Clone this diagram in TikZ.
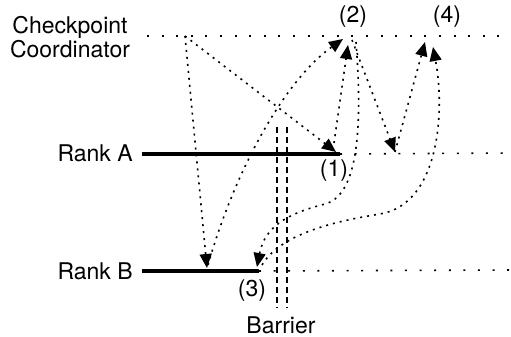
\documentclass[tikz,border=0pt]{standalone}
\usepackage{fontspec}
\setmainfont{TeX Gyre Heros}
\usetikzlibrary{arrows.meta}
\begin{document}
\begin{tikzpicture}[x=0.5pt,y=-0.5pt,
        lbl/.style = {font=\fontsize{11.5}{12}\selectfont, inner sep=0pt},
        life/.style = {line width=2pt},
        idle/.style = {line width=0.8pt, dash pattern=on 1pt off 6.3pt},
        msg/.style = {line width=0.8pt, dash pattern=on 1pt off 2.5pt, -{Triangle[length=7pt,width=6pt]}},
        wall/.style = {line width=0.7pt, dash pattern=on 3pt off 2pt}]
        \useasboundingbox (0,0) rectangle (511,337);
        \node[lbl, align=center] (ckpt) at (70,37) {Checkpoint\\Coordinator};
        \node[lbl, anchor=east] (rankA) at (133,153) {Rank A};
        \node[lbl, anchor=east] (rankB) at (133,271) {Rank B};
        \node[lbl] (l1) at (334,171) {(1)};
        \node[lbl] (l2) at (353,17) {(2)};
        \node[lbl] (l3) at (252,291) {(3)};
        \node[lbl] (l4) at (447,17) {(4)};
        \node[lbl] (bar) at (281,325) {Barrier};
        % time lines
        \coordinate (c0) at (147,36);
        \coordinate (c1) at (511,36);
        \coordinate (a0) at (142,154);
        \coordinate (a1) at (340,154);
        \coordinate (a2) at (511,153);
        \coordinate (b0) at (142,271);
        \coordinate (b1) at (259,271);
        \coordinate (b2) at (511,270);
        \draw[idle] (c0) -- (c1);
        \draw[life] (a0) -- (a1);
        \draw[idle] (a1) -- (a2);
        \draw[life] (b0) -- (b1);
        \draw[idle] (b1) -- (b2);
        % barrier
        \coordinate (w1) at (277,127);
        \coordinate (w2) at (277,308);
        \coordinate (w3) at (287,127);
        \coordinate (w4) at (287,308);
        \draw[wall] (w1) -- (w2);
        \draw[wall] (w3) -- (w4);
        % messages
        \coordinate (s0) at (185,36);
        \coordinate (p1) at (336,152);
        \coordinate (q1) at (333,150);
        \coordinate (pb) at (207,268);
        \coordinate (qb) at (208,265);
        \coordinate (p2) at (343,39);
        \coordinate (p2b) at (348,45);
        \coordinate (q2) at (352,40);
        \coordinate (q2b) at (356,42);
        \coordinate (pa) at (395,152);
        \coordinate (p4) at (425,42);
        \coordinate (p4b) at (433,47);
        \coordinate (p3) at (257,267);
        \coordinate (q3) at (262,265);
        \draw[msg] (s0) -- (pb);
        \draw[msg] (s0) -- (p1);
        \draw[msg] (qb) .. controls (235,170) and (285,80) .. (p2);
        \draw[msg] (q1) -- (p2b);
        \draw[msg] (q2) -- (pa);
        \draw[msg] (pa) -- (p4);
        \draw[msg] (q2b) .. controls (362,120) and (360,195) .. (325,204)
                .. controls (290,213) and (265,225) .. (p3);
        \draw[msg] (q3) .. controls (280,235) and (330,222) .. (380,214)
                .. controls (440,204) and (445,110) .. (p4b);
\end{tikzpicture}
\end{document}
